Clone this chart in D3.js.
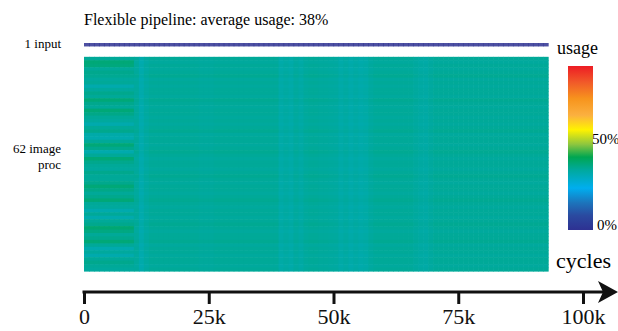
<!DOCTYPE html>
<html>
<head>
<meta charset="utf-8">
<script src="https://cdn.jsdelivr.net/npm/d3@7"></script>
<style>
  body { margin: 0; background: #fff; }
</style>
</head>
<body>
<svg id="chart" width="618" height="331"></svg>
<script>
var serif = '"Liberation Serif", "Times New Roman", Times, serif';
var title = 'Flexible pipeline: average usage: 38%';

// usage (%) of the single input unit (stays at ~0 the whole run)
var binSize = 1000;
var nBins = 93;
var inputUsage = 0;

// base usage of each of the 62 image proc units (faint horizontal banding)
var rowLevel = [
  33.5, 33, 33.5, 33, 33.5, 34, 33, 33.5, 33, 33.5,
  33.5, 33, 34, 33.5, 33, 33.5, 33.5, 33, 33.5, 33,
  33.5, 34, 33, 33.5, 33.5, 33, 33.5, 34, 33.5, 33,
  33.5, 33.5, 33, 33.5, 34, 33.5, 33, 33.5, 33.5, 33,
  33.5, 34, 33.5, 33, 33.5, 33.5, 33, 33.5, 34, 33.5,
  33, 33.5, 33.5, 34, 33, 33.5, 33.5, 33, 33.5, 33.5,
  33, 33.5
];

// usage of each proc unit during the first 10k cycles (stronger row stripes)
var leftUsage = [
  33.5, 36.5, 36, 33.5, 34.5, 34, 33, 33.5, 31, 33,
  34.5, 33.5, 36.5, 34.5, 33.5, 36.5, 35, 33.5, 33, 31,
  33.5, 34.5, 31.5, 31, 33.5, 36.5, 34.5, 31, 33.5, 36.5,
  34.5, 33.5, 33, 34.5, 33.5, 33.5, 34.5, 36.5, 35, 33.5,
  34.5, 36.5, 33.5, 33, 31, 33.5, 31, 33.5, 34.5, 37,
  35.5, 33.5, 34.5, 36.5, 33.5, 31, 33, 31, 33.5, 34.5,
  33.5, 33
];

// change in usage per 1k-cycle bin (vertical bluish stripes)
var colOffset = [
  0, 0, 0, 0, 0, 0, 0, 0, 0, 0,
  -0.3, -2.2, -0.8, 0, 0, 0, 0, 0, 0, 0,
  0, 0, 0, -0.3, -0.3, -0.3, 0, 0, 0, 0,
  0, 0, 0, 0, 0, 0, 0, 0, 0, -1.6,
  -1, -1.6, -0.5, -1.2, -0.3, 0, 0, -0.3, -0.3, -0.5,
  -0.6, -1.6, -1, -1.8, -1.2, -1.8, -1.5, -0.5, 0, 0,
  0, 0, 0, 0, 0, 0, -0.5, -1, -1.2, -0.5,
  0, 0, 0, 0, 0, 0, 0, 0, 0, 0,
  0, 0, 0, 0, 0, 0, 0, 0, 0, 0,
  0, 0, 0
];

// colour bar stops (usage %) and colours
var colorStops = [0, 8, 15, 23, 33, 40, 47, 55, 63, 72, 81, 90];
var colorRange = ['#2e3192', '#2a4aa0', '#1c75bc', '#00aeef', '#00a99d', '#00a651',
                  '#8dc63f', '#fff200', '#fbb040', '#f7941d', '#f15a29', '#ed1c24'];
var colorTicks = [0, 50];

var xTicks = [0, 25000, 50000, 75000, 100000];

var svg = d3.select('#chart');

var color = d3.scaleLinear()
    .domain(colorStops)
    .range(colorRange)
    .interpolate(d3.interpolateRgb)
    .clamp(true);

var x = d3.scaleLinear()
    .domain([0, 100000])
    .range([84, 583]);

// rows: input, a 3-row gap, then 62 proc units
var rowIds = ['input', 'g1', 'g2', 'g3'];
for (var i = 0; i < rowLevel.length; i++) rowIds.push('p' + i);
var y = d3.scaleBand()
    .domain(rowIds)
    .range([43, 271]);

// build cells
var cells = [];
for (var b = 0; b < nBins; b++) {
  cells.push({row: 'input', bin: b, v: inputUsage});
  for (var r = 0; r < rowLevel.length; r++) {
    var v = b < 10 ? leftUsage[r] : rowLevel[r] + colOffset[b];
    cells.push({row: 'p' + r, bin: b, v: v});
  }
}

svg.append('g')
    .selectAll('rect')
    .data(cells)
    .enter()
    .append('rect')
    .attr('x', function (d) { return x(d.bin * binSize); })
    .attr('y', function (d) { return y(d.row); })
    .attr('width', function (d) { return x(binSize) - x(0) + 0.6; })
    .attr('height', function (d) { return d.row === 'input' ? y.bandwidth() : y.bandwidth() + 0.6; })
    .style('fill', function (d) { return color(d.v); })
    .style('fill-opacity', function (d) { return d.row === 'input' ? 0.85 : 1; });

// title
svg.append('text')
    .attr('x', 84)
    .attr('y', 25)
    .style('font-family', serif)
    .style('font-size', '16px')
    .text(title);

// row labels
var rowLabels = [
  {text: '1 input', y: 48},
  {text: '62 image', y: 153},
  {text: 'proc', y: 169}
];
svg.selectAll('.rowlabel')
    .data(rowLabels)
    .enter()
    .append('text')
    .attr('class', 'rowlabel')
    .attr('x', 61)
    .attr('y', function (d) { return d.y; })
    .attr('text-anchor', 'end')
    .style('font-family', serif)
    .style('font-size', '13px')
    .text(function (d) { return d.text; });

// colour bar
var cb = d3.scaleLinear().domain([0, 90]).range([230, 66]);
var grad = svg.append('defs').append('linearGradient')
    .attr('id', 'cbGrad')
    .attr('x1', 0).attr('y1', 1).attr('x2', 0).attr('y2', 0);
grad.selectAll('stop')
    .data(colorStops)
    .enter()
    .append('stop')
    .attr('offset', function (d) { return d / 90; })
    .attr('stop-color', function (d) { return color(d); });

svg.append('rect')
    .attr('x', 568)
    .attr('y', cb(90))
    .attr('width', 25)
    .attr('height', cb(0) - cb(90))
    .style('fill', 'url(#cbGrad)');

svg.append('text')
    .attr('x', 557).attr('y', 54)
    .style('font-family', serif)
    .style('font-size', '18px')
    .text('usage');

svg.selectAll('.cbtick')
    .data(colorTicks)
    .enter()
    .append('text')
    .attr('class', 'cbtick')
    .attr('x', function (d) { return d === 0 ? 597 : 592; })
    .attr('y', function (d) { return d === 0 ? cb(d) : cb(d) + 5; })
    .style('font-family', serif)
    .style('font-size', '15px')
    .text(function (d) { return d + '%'; });

// x axis with arrow
svg.append('text')
    .attr('x', 556).attr('y', 268)
    .style('font-family', serif)
    .style('font-size', '22px')
    .text('cycles');

var xAxis = d3.axisBottom(x)
    .tickValues(xTicks)
    .tickSize(12)
    .tickSizeOuter(0)
    .tickPadding(4)
    .tickFormat(function (d) { return d === 0 ? '0' : (d / 1000) + 'k'; });

var gx = svg.append('g')
    .attr('transform', 'translate(0,292)')
    .call(xAxis);
gx.select('.domain').remove();
gx.selectAll('.tick line')
    .attr('stroke', '#111')
    .attr('stroke-width', 3);
gx.selectAll('.tick text')
    .style('font-family', serif)
    .style('font-size', '22px')
    .attr('fill', '#111');

gx.append('line')
    .attr('x1', x(0) - 1.5).attr('x2', 604)
    .attr('y1', 0).attr('y2', 0)
    .attr('stroke', '#111')
    .attr('stroke-width', 3);
gx.append('path')
    .attr('d', 'M598,-11 L618,0 L598,11 L603,0 Z')
    .attr('fill', '#111');
</script>
</body>
</html>
